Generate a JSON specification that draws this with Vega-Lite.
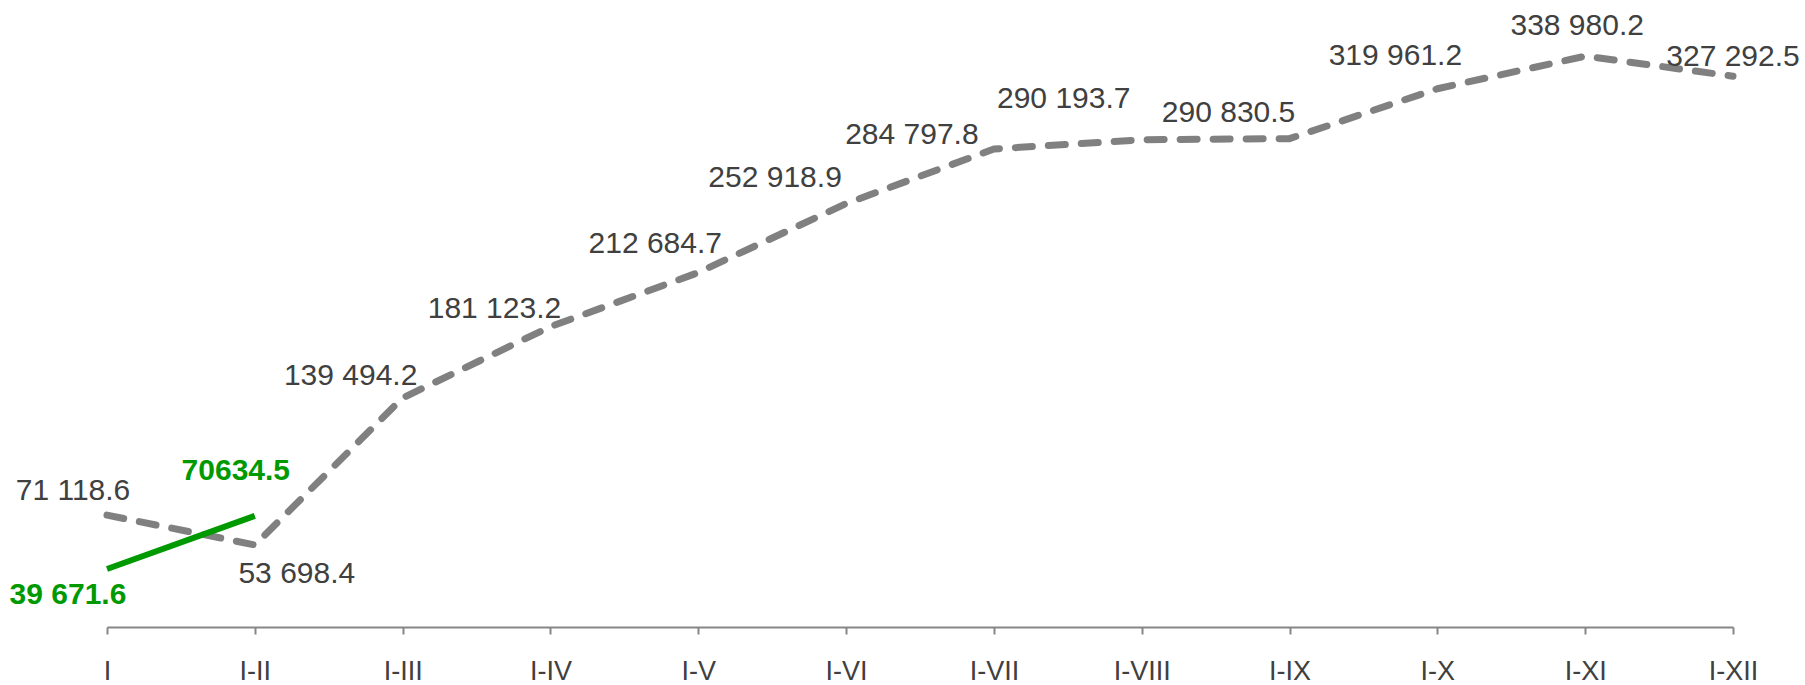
{
  "$schema": "https://vega.github.io/schema/vega-lite/v6.json",
  "width": 1626,
  "height": 624,
  "autosize": {"type": "none"},
  "padding": {"left": 107, "top": 3, "right": 72, "bottom": 58},
  "background": "white",
  "config": {
    "view": {"stroke": null},
    "locale": {"number": {"decimal": ".", "thousands": " ", "grouping": [3], "currency": ["", ""]}},
    "text": {"font": "Liberation Sans", "fontSize": 30, "fill": "#404040", "align": "center", "baseline": "alphabetic"}
  },
  "datasets": {
    "total": [
      {"m": "I", "v": 71118.6},
      {"m": "I-II", "v": 53698.4},
      {"m": "I-III", "v": 139494.2},
      {"m": "I-IV", "v": 181123.2},
      {"m": "I-V", "v": 212684.7},
      {"m": "I-VI", "v": 252918.9},
      {"m": "I-VII", "v": 284797.8},
      {"m": "I-VIII", "v": 290193.7},
      {"m": "I-IX", "v": 290830.5},
      {"m": "I-X", "v": 319961.2},
      {"m": "I-XI", "v": 338980.2},
      {"m": "I-XII", "v": 327292.5}
    ],
    "green": [
      {"m": "I", "v": 39671.6},
      {"m": "I-II", "v": 70634.5}
    ]
  },
  "encoding": {
    "x": {
      "field": "m", "type": "ordinal",
      "scale": {"type": "point", "padding": 0, "domain": ["I", "I-II", "I-III", "I-IV", "I-V", "I-VI", "I-VII", "I-VIII", "I-IX", "I-X", "I-XI", "I-XII"]},
      "axis": {"title": null, "labelAngle": 0, "grid": false, "domainColor": "#868686", "domainWidth": 2, "tickColor": "#868686", "tickWidth": 2, "tickSize": 7, "labelFont": "Liberation Sans", "labelFontSize": 27, "labelColor": "#404040", "labelBaseline": "alphabetic", "labelPadding": 45}
    },
    "y": {"field": "v", "type": "quantitative", "scale": {"domain": [5800, 370000], "nice": false, "zero": false}, "axis": null}
  },
  "layer": [
    {"data": {"name": "total"}, "mark": {"type": "line", "stroke": "#808080", "strokeWidth": 7, "strokeDash": [17, 16], "strokeCap": "round", "strokeJoin": "round"}},
    {"data": {"name": "green"}, "mark": {"type": "line", "stroke": "#009900", "strokeWidth": 6, "strokeCap": "butt"}},
    {"data": {"name": "total"}, "transform": [{"filter": "datum.m == 'I'"}], "mark": {"type": "text", "dx": -34, "dy": -15}, "encoding": {"text": {"field": "v", "format": ",.1f"}}},
    {"data": {"name": "total"}, "transform": [{"filter": "datum.m == 'I-II'"}], "mark": {"type": "text", "dx": 42, "dy": 38}, "encoding": {"text": {"field": "v", "format": ",.1f"}}},
    {"data": {"name": "total"}, "transform": [{"filter": "datum.m == 'I-III'"}], "mark": {"type": "text", "dx": -52, "dy": -13}, "encoding": {"text": {"field": "v", "format": ",.1f"}}},
    {"data": {"name": "total"}, "transform": [{"filter": "datum.m == 'I-IV'"}], "mark": {"type": "text", "dx": -56, "dy": -9}, "encoding": {"text": {"field": "v", "format": ",.1f"}}},
    {"data": {"name": "total"}, "transform": [{"filter": "datum.m == 'I-V'"}], "mark": {"type": "text", "dx": -43, "dy": -20}, "encoding": {"text": {"field": "v", "format": ",.1f"}}},
    {"data": {"name": "total"}, "transform": [{"filter": "datum.m == 'I-VI'"}], "mark": {"type": "text", "dx": -71, "dy": -17}, "encoding": {"text": {"field": "v", "format": ",.1f"}}},
    {"data": {"name": "total"}, "transform": [{"filter": "datum.m == 'I-VII'"}], "mark": {"type": "text", "dx": -82, "dy": -5}, "encoding": {"text": {"field": "v", "format": ",.1f"}}},
    {"data": {"name": "total"}, "transform": [{"filter": "datum.m == 'I-VIII'"}], "mark": {"type": "text", "dx": -78, "dy": -32}, "encoding": {"text": {"field": "v", "format": ",.1f"}}},
    {"data": {"name": "total"}, "transform": [{"filter": "datum.m == 'I-IX'"}], "mark": {"type": "text", "dx": -61, "dy": -17}, "encoding": {"text": {"field": "v", "format": ",.1f"}}},
    {"data": {"name": "total"}, "transform": [{"filter": "datum.m == 'I-X'"}], "mark": {"type": "text", "dx": -42, "dy": -24}, "encoding": {"text": {"field": "v", "format": ",.1f"}}},
    {"data": {"name": "total"}, "transform": [{"filter": "datum.m == 'I-XI'"}], "mark": {"type": "text", "dx": -8, "dy": -21}, "encoding": {"text": {"field": "v", "format": ",.1f"}}},
    {"data": {"name": "total"}, "transform": [{"filter": "datum.m == 'I-XII'"}], "mark": {"type": "text", "dx": 0, "dy": -10}, "encoding": {"text": {"field": "v", "format": ",.1f"}}},
    {"data": {"name": "green"}, "transform": [{"filter": "datum.m == 'I'"}], "mark": {"type": "text", "dx": -39, "dy": 35, "fill": "#009900", "fontWeight": "bold"}, "encoding": {"text": {"field": "v", "format": ",.1f"}}},
    {"data": {"name": "green"}, "transform": [{"filter": "datum.m == 'I-II'"}], "mark": {"type": "text", "dx": -19, "dy": -36, "fill": "#009900", "fontWeight": "bold"}, "encoding": {"text": {"field": "v", "format": ".1f"}}}
  ]
}
